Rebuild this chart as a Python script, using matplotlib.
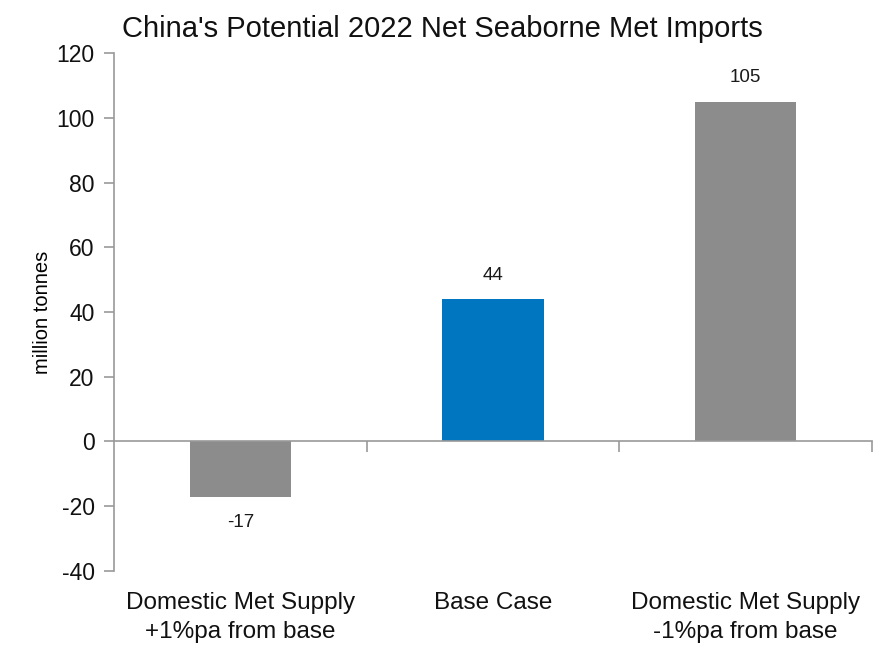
import matplotlib.pyplot as plt

plt.rcParams['font.family'] = ['Liberation Sans', 'DejaVu Sans']
plt.rcParams['axes.unicode_minus'] = False

scenarios = ["Domestic Met Supply\n+1%pa from base", "Base Case", "Domestic Met Supply\n-1%pa from base"]
imports = [-17, 44, 105]
bar_colors = ["#8c8c8c", "#0076c0", "#8c8c8c"]

fig = plt.figure(figsize=(8.81, 6.47), dpi=100)
ax = fig.add_axes([0.1294, 0.1175, 0.8604, 0.8005])

x = list(range(len(scenarios)))
ax.bar(x, imports, width=0.4, color=bar_colors)

for xi, v in zip(x, imports):
    if v >= 0:
        ax.annotate(str(v), (xi, v), xytext=(0, 17), textcoords="offset points",
                    ha="center", va="center", fontsize=13.5, color="#1a1a1a")
    else:
        ax.annotate(str(v), (xi, v), xytext=(0, -19), textcoords="offset points",
                    ha="center", va="center", fontsize=13.5, color="#1a1a1a")

ax.set_xlim(-0.5, 2.5)
ax.set_ylim(-40, 120)
ax.set_yticks(range(-40, 121, 20))
ax.tick_params(axis="y", labelsize=16.5, length=7, color="#999999", width=1.2, pad=7, labelcolor="#111111")
ax.set_ylabel("million tonnes", fontsize=14.5)
ax.yaxis.set_label_coords(-0.082, 0.5)

# zero line with category separators
ax.spines["bottom"].set_position(("data", 0))
ax.spines["top"].set_visible(False)
ax.spines["right"].set_visible(False)
for s in ("left", "bottom"):
    ax.spines[s].set_color("#999999")
    ax.spines[s].set_linewidth(1.2)
ax.set_xticks([0.5, 1.5, 2.5])
ax.set_xticklabels([])
ax.tick_params(axis="x", length=8, color="#999999", width=1.2, direction="out")

# category names under the plot
for xi, name in zip(x, scenarios):
    ax.annotate(name, (xi, 0), xycoords=("data", "axes fraction"), xytext=(0, -15),
                textcoords="offset points", ha="center", va="top", fontsize=17.5,
                linespacing=1.45, color="#111111")

fig.text(0.138, 0.955, "China's Potential 2022 Net Seaborne Met Imports", fontsize=21,
         ha="left", va="center", color="#111111")

fig.savefig("out.png", dpi=100)
